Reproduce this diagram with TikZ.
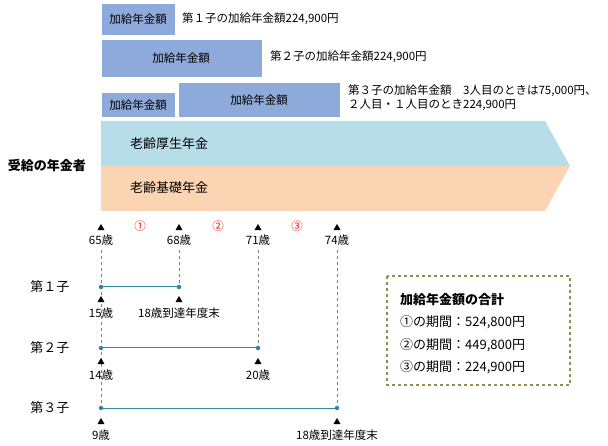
\documentclass[tikz,border=0pt]{standalone}
\usepackage{fontspec}
\setmainfont{Noto Sans CJK JP}
\usetikzlibrary{positioning,shapes.geometric}
\definecolor{addblue}{HTML}{8EAADB}
\definecolor{kosei}{HTML}{B7DDE8}
\definecolor{kiso}{HTML}{FBD4B4}
\definecolor{teal}{HTML}{31859C}
\definecolor{olive}{HTML}{948A54}
\tikzset{
  addbox/.style={fill=addblue,draw=white},
  lbl/.style={font=\fontsize{11.5}{14}\selectfont,inner sep=0pt},
  big/.style={font=\fontsize{13}{15}\selectfont,inner sep=0pt},
  tri/.style={isosceles triangle,shape border rotate=90,fill,inner sep=0pt,minimum width=7pt,minimum height=6pt,isosceles triangle apex angle=60},
  span/.style={teal,line width=1pt},
  dotc/.style={circle,fill=teal,inner sep=1.6pt},
  guide/.style={gray,dashed,thin}
}
\begin{document}
\begin{tikzpicture}[x=1pt,y=-1pt]
  \useasboundingbox (0,0) rectangle (608,446);
  % additional pension boxes
  \filldraw[addbox] (101,3) rectangle (175,35);
  \node[lbl] at (138,19) {加給年金額};
  \node[lbl,anchor=west] at (182,19) {第１子の加給年金額224,900円};
  \filldraw[addbox] (101,39) rectangle (262,77);
  \node[lbl] at (181,58) {加給年金額};
  \node[lbl,anchor=west] at (270,57) {第２子の加給年金額224,900円};
  \filldraw[addbox] (101,92) rectangle (175,117);
  \node[lbl] at (138,105) {加給年金額};
  \filldraw[addbox] (178,82) rectangle (340,117);
  \node[lbl] at (259,100) {加給年金額};
  \node[lbl,anchor=west,align=left] at (348,98) {第３子の加給年金額\quad 3人目のときは75,000円、\\ ２人目・１人目のとき224,900円};
  % pension bands
  \fill[kosei] (101,121) -- (545,121) -- (570,166) -- (101,166) -- cycle;
  \fill[kiso] (101,166) -- (570,166) -- (545,211) -- (101,211) -- cycle;
  \node[big,anchor=west] at (130,144) {老齢厚生年金};
  \node[big,anchor=west] at (130,188) {老齢基礎年金};
  \node[big,font=\fontsize{13}{15}\selectfont\bfseries] at (47,166) {受給の年金者};
  % age axis
  \foreach \x/\a in {101/65,179/68,258/71,337/74}{
    \node[tri] (t\a) at (\x,228) {};
    \node[lbl,below=4pt of t\a] {\a 歳};
  }
  \foreach \x/\p in {140/①,218/②,297/③}
    \node[lbl,red] at (\x,226) {\p};
  \draw[guide] (101,250) -- (101,410);
  \draw[guide] (179,250) -- (179,287);
  \draw[guide] (258,250) -- (258,348);
  \draw[guide] (337,250) -- (337,408);
  % children
  \node[big] at (50,287) {第１子};
  \node[dotc] (a1) at (101,287) {};
  \node[dotc] (b1) at (179,287) {};
  \draw[span] (a1) -- (b1);
  \node[tri] (ta1) at (101,300) {};
  \node[tri] (tb1) at (179,300) {};
  \node[lbl,below=5pt of ta1] {15歳};
  \node[lbl,below=5pt of tb1] {18歳到達年度末};
  \node[big] at (50,348) {第２子};
  \node[dotc] (a2) at (101,348) {};
  \node[dotc] (b2) at (258,348) {};
  \draw[span] (a2) -- (b2);
  \node[tri] (ta2) at (101,362) {};
  \node[tri] (tb2) at (258,362) {};
  \node[lbl,below=5pt of ta2] {14歳};
  \node[lbl,below=5pt of tb2] {20歳};
  \node[big] at (50,408) {第３子};
  \node[dotc] (a3) at (101,408) {};
  \node[dotc] (b3) at (337,408) {};
  \draw[span] (a3) -- (b3);
  \node[tri] (ta3) at (101,422) {};
  \node[tri] (tb3) at (337,422) {};
  \node[lbl,below=5pt of ta3] {9歳};
  \node[lbl,below=5pt of tb3] {18歳到達年度末};
  % total
  \draw[olive,dashed,line width=1.2pt] (387,276) rectangle (570,385);
  \node[big,anchor=west,font=\fontsize{13}{15}\selectfont\bfseries] at (400,300) {加給年金額の合計};
  \node[big,anchor=west] at (400,322) {①の期間：524,800円};
  \node[big,anchor=west] at (400,345) {②の期間：449,800円};
  \node[big,anchor=west] at (400,367) {③の期間：224,900円};
\end{tikzpicture}
\end{document}
